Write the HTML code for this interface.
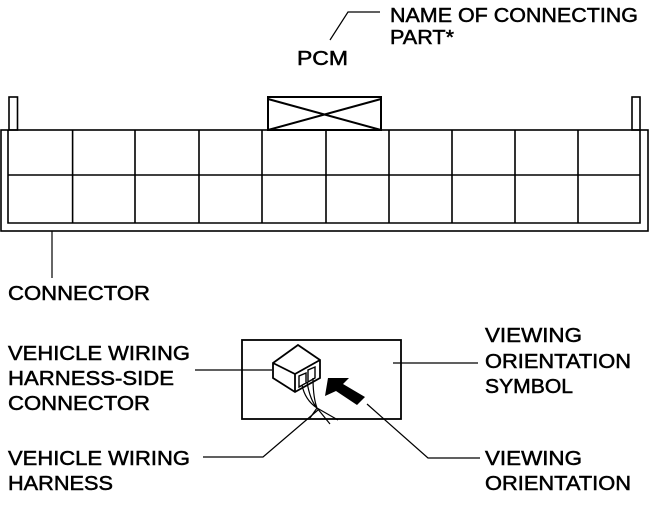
<!DOCTYPE html>
<html><head><style>html,body{margin:0;padding:0;background:#fff}svg{display:block}text{font-family:"Liberation Sans",Arial,sans-serif;font-size:20px;fill:#000;stroke:#000;stroke-width:0.5}</style></head><body>
<svg width="657" height="511" viewBox="0 0 657 511" xmlns="http://www.w3.org/2000/svg">
<g fill="none" stroke="#000" stroke-width="1.6">
<rect x="1" y="130" width="647" height="101"/>
<rect x="9" y="97" width="8.5" height="33"/>
<rect x="632" y="97" width="8" height="33"/>
<rect x="268" y="97" width="113" height="33" stroke-width="2"/>
<path d="M268 99 L381 130 M381 99 L268 130" stroke-width="2"/>
<path d="M8 130 V223 H640 V130 M8 175 H640"/>
<path d="M72.6 130V223M135 130V223M199 130V223M262 130V223M326 130V223M389 130V223M452 130V223M515 130V223M578 130V223"/>
<path d="M52 231 V278" stroke-width="1.2"/>
<path d="M330 40 L348 12 H380" stroke-width="1.2"/>
<rect x="242" y="340" width="159" height="79" stroke-width="1.8"/>
<path d="M195 370 H272 M393 363 H478 M318 410 L263 457 H203 M367 404 L428 458 H480" stroke-width="1.2"/>
<path d="M273 363 L298 345 L320 360 L320 378 L295 392 L273 378 Z M273 363 L295 374 L320 360 M295 374 V392" stroke-width="1.8"/>
<path d="M299 387 L299 376 L306 373 L306 383 Z M308 382 L308 370 L315 367 L315 378 Z" stroke-width="1.4"/>
<path d="M302 385 Q305 400 317 408 M307 382 Q310 400 317 408 M313 378 Q313 397 317 408 M317 408 L338 420 M317 408 L310 418 M317 408 L330 424" stroke-width="1.2"/>
</g>
<path d="M328 378 L349 378 L343 384 L365 397 L357 405 L336 391 L325 396 Z" fill="#000"/>
<text x="390" y="22" textLength="248" lengthAdjust="spacingAndGlyphs">NAME OF CONNECTING</text>
<text x="390" y="44" textLength="64" lengthAdjust="spacingAndGlyphs">PART*</text>
<text x="297" y="65" textLength="51" lengthAdjust="spacingAndGlyphs">PCM</text>
<text x="8" y="300" textLength="142" lengthAdjust="spacingAndGlyphs">CONNECTOR</text>
<text x="8" y="360" textLength="182" lengthAdjust="spacingAndGlyphs">VEHICLE WIRING</text>
<text x="8" y="385" textLength="166" lengthAdjust="spacingAndGlyphs">HARNESS-SIDE</text>
<text x="8" y="410" textLength="142" lengthAdjust="spacingAndGlyphs">CONNECTOR</text>
<text x="8" y="465" textLength="182" lengthAdjust="spacingAndGlyphs">VEHICLE WIRING</text>
<text x="8" y="490" textLength="105" lengthAdjust="spacingAndGlyphs">HARNESS</text>
<text x="485" y="342" textLength="97" lengthAdjust="spacingAndGlyphs">VIEWING</text>
<text x="485" y="368" textLength="146" lengthAdjust="spacingAndGlyphs">ORIENTATION</text>
<text x="485" y="393" textLength="88" lengthAdjust="spacingAndGlyphs">SYMBOL</text>
<text x="485" y="465" textLength="97" lengthAdjust="spacingAndGlyphs">VIEWING</text>
<text x="485" y="490" textLength="146" lengthAdjust="spacingAndGlyphs">ORIENTATION</text>
</svg>
</body></html>
